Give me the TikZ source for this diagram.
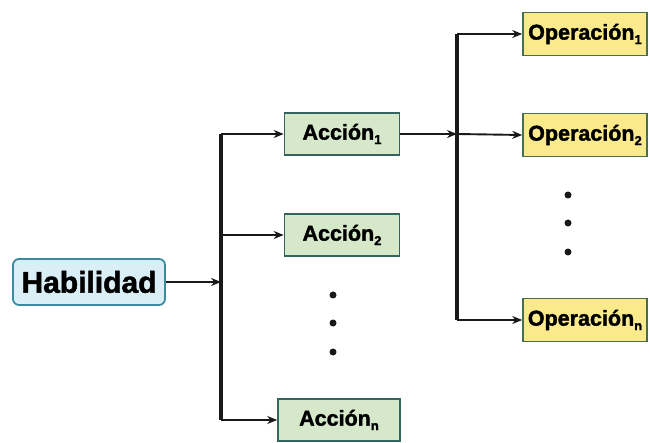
\documentclass[tikz,border=0pt]{standalone}
\usepackage{fontspec}
\setmainfont{Liberation Sans}
\newfontfamily\heavy[FakeBold=1.6]{Liberation Sans Bold}
\usetikzlibrary{arrows.meta}
\definecolor{habfill}{RGB}{218,238,246}
\definecolor{habdraw}{RGB}{58,138,160}
\definecolor{accfill}{RGB}{214,232,202}
\definecolor{accdraw}{RGB}{52,100,96}
\definecolor{opfill}{RGB}{250,234,140}
\definecolor{opdraw}{RGB}{70,110,80}
\newcommand{\lsub}[1]{{\fontsize{13}{13}\selectfont\raisebox{-4.5pt}{#1}}}
\tikzset{
  habbox/.style={draw=habdraw, fill=habfill, line width=1.8pt, rounded corners=6pt,
    minimum width=152pt, minimum height=46pt, inner sep=0pt,
    font=\fontsize{30}{30}\selectfont\heavy},
  accbox/.style={draw=accdraw, fill=accfill, line width=1.6pt,
    minimum width=115pt, minimum height=42pt, inner sep=0pt,
    font=\fontsize{21.5}{21.5}\selectfont\heavy},
  opbox/.style={draw=opdraw, fill=opfill, line width=1.6pt,
    minimum width=124pt, minimum height=43pt, inner sep=0pt,
    font=\fontsize{21.5}{21.5}\selectfont\heavy},
  bus/.style={line width=3.2pt, black!90},
  conn/.style={line width=1.9pt, black!90, -{Stealth[length=10pt,width=8pt]}},
  dotnode/.style={circle, fill=black!90, inner sep=0pt, minimum size=7pt}
}
\begin{document}
\begin{tikzpicture}[x=1pt,y=-1pt]
\useasboundingbox (0,0) rectangle (650,443);
\fill[white] (0,0) rectangle (650,443);
% nodes
\node[habbox] (hab) at (89,282) {Habilidad};
\node[accbox] (acc1) at (342,134) {Acción\lsub{1}};
\node[accbox] (acc2) at (342,235) {Acción\lsub{2}};
\node[accbox, minimum width=122pt] (accn) at (339,420) {Acción\lsub{n}};
\node[opbox] (op1) at (585,34) {Operación\lsub{1}};
\node[opbox] (op2) at (585,135) {Operación\lsub{2}};
\node[opbox] (opn) at (585,320) {Operación\lsub{n}};
% dots
\node[dotnode] (da1) at (333,295) {};
\node[dotnode] (da2) at (333,323) {};
\node[dotnode] (da3) at (333,352) {};
\node[dotnode] (do1) at (568,195) {};
\node[dotnode] (do2) at (568,223) {};
\node[dotnode] (do3) at (568,252) {};
% bus 1
\coordinate (b1top) at (221,134);
\coordinate (b1mid) at (221,235);
\coordinate (b1hab) at (221,282);
\coordinate (b1bot) at (221,420);
\draw[bus] (b1top) -- (b1bot);
\draw[conn] (hab.east) -- (b1hab);
\draw[conn] (b1top) -- (acc1.west);
\draw[conn] (b1mid) -- (acc2.west);
\draw[conn] (b1bot) -- (accn.west);
% bus 2
\coordinate (b2top) at (457,34);
\coordinate (b2mid) at (457,134);
\coordinate (b2bot) at (457,320);
\draw[bus] (b2top) -- (b2bot);
\draw[conn] (acc1.east) -- (b2mid);
\draw[conn] (b2top) -- (op1.west);
\draw[conn] (b2mid) -- (op2.west);
\draw[conn] (b2bot) -- (opn.west);
\end{tikzpicture}
\end{document}
